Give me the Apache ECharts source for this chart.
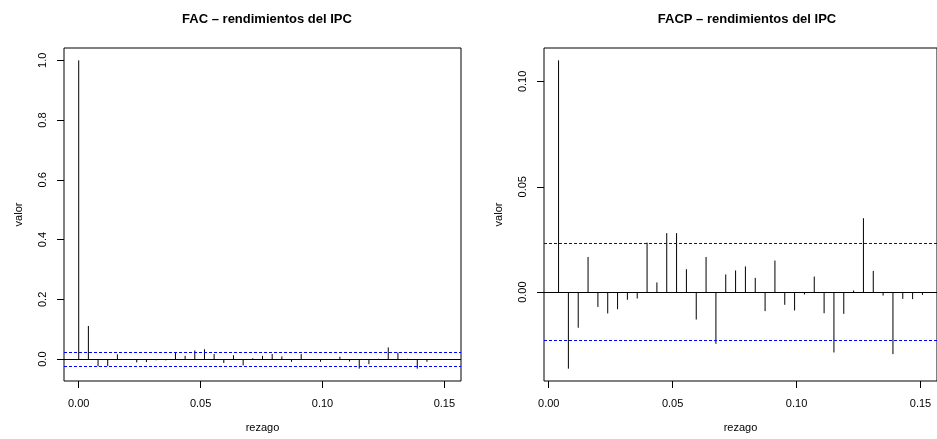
<!DOCTYPE html>
<html>
<head>
<meta charset="utf-8">
<script src="https://cdn.jsdelivr.net/npm/echarts@6/dist/echarts.min.js"></script>
<style>
  html, body { margin: 0; padding: 0; background: #fff; }
  #chart { width: 937px; height: 439px; }
</style>
</head>
<body>
<div id="chart"></div>
<script>
// Daily IPC returns: sample autocorrelation (FAC) and partial autocorrelation (FACP)
const frecuencia = 252;            // trading days per year; lag is shown in years
const ic = 0.0231;                 // 95% band, 1.96 / sqrt(n)

const rezagosFac = [0, 1, 2, 3, 4, 5, 6, 7, 8, 9, 10, 11, 12, 13, 14, 15, 16, 17, 18, 19,
                    20, 21, 22, 23, 24, 25, 26, 27, 28, 29, 30, 31, 32, 33, 34, 35, 36, 37, 38];
const fac = [1.000, 0.111, -0.024, -0.023, 0.016, -0.003, -0.011, -0.010, -0.004, -0.004,
             0.023, 0.011, 0.029, 0.033, 0.017, -0.013, 0.013, -0.021, 0.003, 0.011,
             0.017, 0.009, -0.009, 0.017, -0.001, -0.009, -0.003, 0.008, -0.008, -0.032,
             -0.017, 0.001, 0.039, 0.022, 0.001, -0.032, -0.009, -0.003, -0.003];

const rezagosFacp = [1, 2, 3, 4, 5, 6, 7, 8, 9, 10, 11, 12, 13, 14, 15, 16, 17, 18, 19,
                     20, 21, 22, 23, 24, 25, 26, 27, 28, 29, 30, 31, 32, 33, 34, 35, 36, 37, 38];
const facp = [0.110, -0.0363, -0.0169, 0.0167, -0.0070, -0.0101, -0.0081, -0.0036, -0.0030, 0.0235,
              0.0046, 0.0280, 0.0280, 0.0109, -0.0130, 0.0167, -0.0245, 0.0084, 0.0103, 0.0122,
              0.0068, -0.0090, 0.0150, -0.0060, -0.0087, -0.0011, 0.0074, -0.0100, -0.0286, -0.0103,
              0.0008, 0.0351, 0.0101, -0.0016, -0.0294, -0.0032, -0.0033, -0.0013];

const ticksX = [0, 0.05, 0.10, 0.15];
const ticksFac = [0, 0.2, 0.4, 0.6, 0.8, 1.0];
const ticksFacp = [0, 0.05, 0.10];

const FONT = '"Liberation Sans", Arial, Helvetica, sans-serif';

// R-style 4% padding around a data range
function rango(vals) {
  const lo = Math.min(...vals), hi = Math.max(...vals);
  const d = (hi - lo) * 0.04;
  return [lo - d, hi + d];
}

const xFac = rango(rezagosFac.map(k => k / frecuencia));
const xFacp = rango(rezagosFacp.map(k => k / frecuencia));
const yFac = rango(fac.concat([ic, -ic]));
const yFacp = rango(facp.concat([ic, -ic]));

function xAxisDef(idx, r) {
  return {
    type: 'value', gridIndex: idx, min: r[0], max: r[1],
    name: 'rezago', nameLocation: 'middle', nameGap: 41,
    nameTextStyle: { fontFamily: FONT, fontSize: 11, color: '#000' },
    axisLine: { show: false, onZero: false },
    splitLine: { show: false },
    axisTick: { show: true, length: 7, customValues: ticksX, lineStyle: { color: '#000' } },
    axisLabel: { customValues: ticksX, margin: 17, fontFamily: FONT, fontSize: 11, color: '#000',
                 formatter: v => v.toFixed(2) }
  };
}

function yAxisDef(idx, r, ticks, dec) {
  return {
    type: 'value', gridIndex: idx, min: r[0], max: r[1],
    name: 'valor', nameLocation: 'middle', nameGap: 40,
    nameTextStyle: { fontFamily: FONT, fontSize: 11, color: '#000' },
    axisLine: { show: false, onZero: false },
    splitLine: { show: false },
    axisTick: { show: true, length: 7, customValues: ticks, lineStyle: { color: '#000' } },
    axisLabel: { customValues: ticks, rotate: 90, margin: 16, fontFamily: FONT, fontSize: 11, color: '#000',
                 formatter: v => v.toFixed(dec) }
  };
}

function espigas(params, api) {
  const x = api.value(0), y = api.value(1);
  const a = api.coord([x, 0]);
  const b = api.coord([x, y]);
  return {
    type: 'line',
    shape: { x1: a[0], y1: a[1], x2: b[0], y2: b[1] },
    style: { stroke: '#000', lineWidth: 1 }
  };
}

// zero line plus the two confidence bounds, spanning the panel's x range
function referencias(idx, xr) {
  return {
    type: 'custom', xAxisIndex: idx, yAxisIndex: idx, silent: true, z: 3,
    data: [[xr[0], xr[1]]],
    renderItem: function (params, api) {
      const x0 = api.value(0), x1 = api.value(1);
      const linea = (y, color, dash) => {
        const a = api.coord([x0, y]);
        const b = api.coord([x1, y]);
        const py = Math.floor(a[1]) + 0.5;   // keep the 1px line on a single pixel row
        return {
          type: 'line',
          shape: { x1: a[0], y1: py, x2: b[0], y2: py },
          style: { stroke: color, fill: null, lineWidth: 1, lineDash: dash }
        };
      };
      return {
        type: 'group',
        children: [
          linea(0, '#000000', 'solid'),
          linea(-ic, '#0000ff', [3, 2]),
          linea(ic, '#0000ff', [3, 2])
        ]
      };
    }
  };
}

function panel(idx, xr, lags, vals) {
  return [
    { type: 'custom', xAxisIndex: idx, yAxisIndex: idx, renderItem: espigas, z: 2,
      data: lags.map((k, i) => [k / frecuencia, vals[i]]) },
    referencias(idx, xr)
  ];
}

const chart = echarts.init(document.getElementById('chart'), null, { renderer: 'canvas' });
chart.setOption({
  animation: false,
  backgroundColor: '#fff',
  title: [
    { text: 'FAC – rendimientos del IPC', left: 262, top: 8, textAlign: 'center',
      textStyle: { fontFamily: FONT, fontSize: 13, fontWeight: 'bold', color: '#000' } },
    { text: 'FACP – rendimientos del IPC', left: 742, top: 8, textAlign: 'center',
      textStyle: { fontFamily: FONT, fontSize: 13, fontWeight: 'bold', color: '#000' } }
  ],
  grid: [
    { left: 64, right: 476, top: 48, bottom: 58, show: true, borderColor: '#000', borderWidth: 1, backgroundColor: 'transparent' },
    { left: 544, right: -3, top: 48, bottom: 58, show: true, borderColor: '#000', borderWidth: 1, backgroundColor: 'transparent' }
  ],
  xAxis: [xAxisDef(0, xFac), xAxisDef(1, xFacp)],
  yAxis: [yAxisDef(0, yFac, ticksFac, 1), yAxisDef(1, yFacp, ticksFacp, 2)],
  series: panel(0, xFac, rezagosFac, fac).concat(panel(1, xFacp, rezagosFacp, facp))
});
</script>
</body>
</html>
